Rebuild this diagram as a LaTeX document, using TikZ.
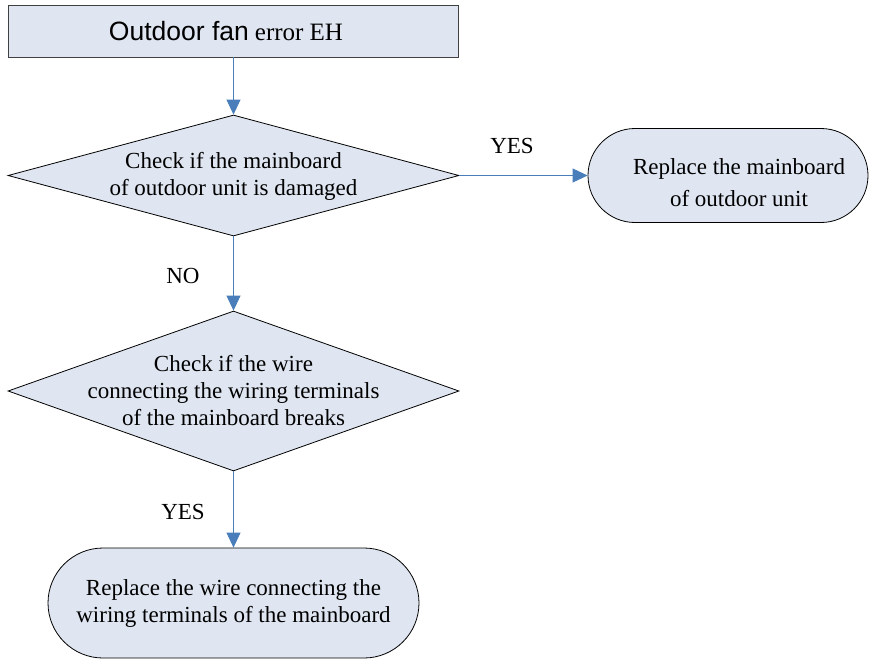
\documentclass[tikz,border=0pt]{standalone}
\usepackage{fontspec}
\setmainfont{Liberation Serif}
\newfontfamily\arialfont{Liberation Sans}
\usetikzlibrary{shapes.geometric,arrows.meta}
\definecolor{boxfill}{HTML}{DFE6F1}
\definecolor{arrowblue}{HTML}{4A7EBB}
\tikzset{
  titlebox/.style={draw=black!75, line width=0.9pt, fill=boxfill, minimum width=450pt, minimum height=52pt, inner sep=0pt},
  decision/.style={diamond, draw=black, line width=0.8pt, fill=boxfill, minimum width=451pt, minimum height=121pt, inner sep=0pt},
  terminal/.style={draw=black, line width=0.8pt, fill=boxfill, inner sep=0pt},
  txt/.style={align=center, font=\fontsize{23}{27}\selectfont, inner sep=0pt},
  lbl/.style={font=\fontsize{23}{27}\selectfont, inner sep=0pt},
  flow/.style={draw=arrowblue, line width=0.8pt, -{Triangle[length=15pt,width=14pt]}},
}
\begin{document}
\begin{tikzpicture}[x=1pt,y=-1pt]
\useasboundingbox (0,0) rectangle (869,659);
% title
\node[titlebox] (title) at (233.5,31) {};
\node[inner sep=0pt] (titletext) at (226,31) {{\arialfont\fontsize{26.5}{30}\selectfont Outdoor fan}\hspace{6pt}{\fontsize{25}{30}\selectfont error EH}};
% decision 1
\node[decision, minimum height=121pt] (d1) at (233.5,175.5) {};
\node[txt] (d1text) at (233.5,176) {Check if the mainboard\\of outdoor unit is damaged};
% replace mainboard
\node[terminal, minimum width=280pt, minimum height=94pt, rounded corners=47pt] (r1) at (728,175.5) {};
\node[txt, font=\fontsize{23}{32}\selectfont] (r1text) at (739,183) {Replace the mainboard\\of outdoor unit};
% decision 2
\node[decision, minimum height=160pt] (d2) at (233.5,391) {};
\node[txt] (d2text) at (233.5,391) {Check if the wire\\connecting the wiring terminals\\of the mainboard breaks};
% replace wire
\node[terminal, minimum width=371pt, minimum height=110pt, rounded corners=55pt] (r2) at (233.5,603) {};
\node[txt] (r2text) at (233.5,603) {Replace the wire connecting the\\wiring terminals of the mainboard};
% connectors
\draw[flow] (title.south) -- (d1.north);
\draw[flow] (d1.east) -- (r1.west);
\draw[flow] (d1.south) -- (d2.north);
\draw[flow] (d2.south) -- (r2.north);
% labels
\node[lbl] (yes1) at (512,146) {YES};
\node[lbl] (no1) at (183,276) {NO};
\node[lbl] (yes2) at (183,512) {YES};
\end{tikzpicture}
\end{document}
